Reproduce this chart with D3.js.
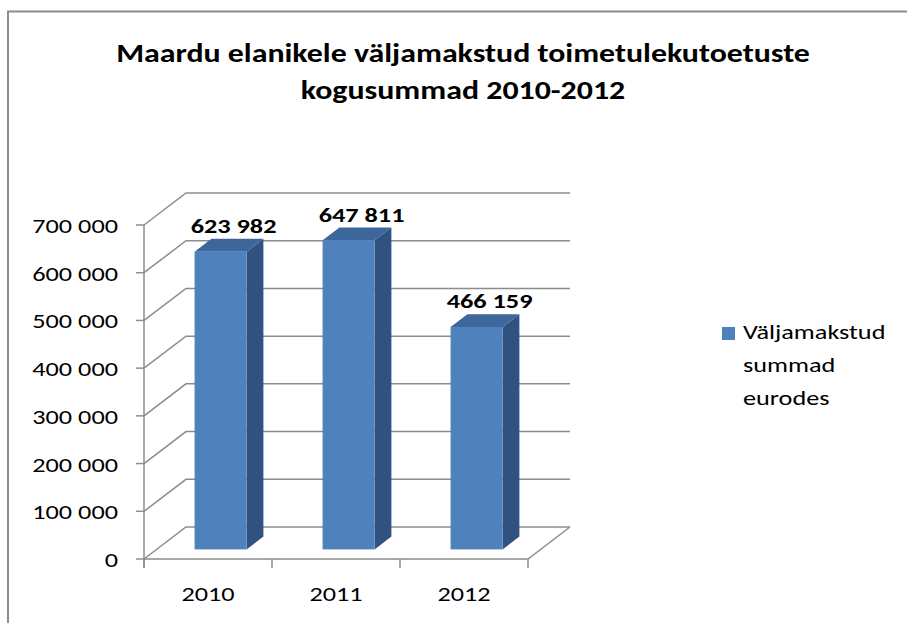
<!DOCTYPE html>
<html>
<head>
<meta charset="utf-8">
<script src="https://cdn.jsdelivr.net/npm/d3@7"></script>
<style>
  body { margin: 0; background: #fff; }
  svg { display: block; font-family: Carlito, Calibri, "Open Sans", sans-serif; }
</style>
</head>
<body>
<div id="chart-area"></div>
<script>
// data
var years = ["2010", "2011", "2012"];
var amounts = [623982, 647811, 466159];
var yTicks = [0, 100000, 200000, 300000, 400000, 500000, 600000, 700000];
var seriesName = ["Väljamakstud", "summad", "eurodes"];
var titleLines = ["Maardu elanikele väljamakstud toimetulekutoetuste", "kogusummad 2010-2012"];

var width = 907, height = 623;
// the original picture is stretched sideways, so text is too
var stretch = 1.25;

var svg = d3.select("#chart-area").append("svg")
    .attr("width", width)
    .attr("height", height);

function place(px, py) {
    return "translate(" + px + "," + py + ") scale(" + stretch + ",1)";
}

// outer frame (only top and left edges visible)
svg.append("path")
    .attr("d", "M8,623 V11.5 H907")
    .attr("fill", "none")
    .attr("stroke", "#8c8c8c")
    .attr("stroke-width", 2);

// title
svg.append("g").selectAll("text")
    .data(titleLines).enter()
    .append("text")
        .attr("transform", function(d, i) { return place(463, 62 + i * 37); })
        .attr("text-anchor", "middle")
        .attr("font-size", "25.5px")
        .attr("font-weight", "bold")
        .attr("fill", "#000")
        .text(function(d) { return d; });

// scales
var x = d3.scaleBand()
    .domain(years)
    .range([144, 528]);

var y = d3.scaleLinear()
    .domain([0, 700000])
    .range([559, 225]);

// depth of the 3d box
var depthX = 42, depthY = -32;
var grid = "#8c8c8c";

// gridlines: side wall diagonal + back wall horizontal
var gl = svg.append("g");
gl.selectAll("path")
    .data(yTicks).enter()
    .append("path")
        .attr("d", function(d) {
            var yy = y(d);
            return "M" + x.range()[0] + "," + yy +
                " L" + (x.range()[0] + depthX) + "," + (yy + depthY) +
                " H" + (x.range()[1] + depthX);
        })
        .attr("fill", "none")
        .attr("stroke", grid)
        .attr("stroke-width", 1.5);

// floor front and right edges
svg.append("path")
    .attr("d", "M" + x.range()[0] + "," + y(0) + " H" + x.range()[1] +
        " L" + (x.range()[1] + depthX) + "," + (y(0) + depthY))
    .attr("fill", "none")
    .attr("stroke", grid)
    .attr("stroke-width", 1.5);

// y axis line + ticks
svg.append("path")
    .attr("d", "M" + x.range()[0] + "," + y(700000) + " V" + (y(0) + 9))
    .attr("stroke", grid)
    .attr("stroke-width", 1.5);
svg.append("g").selectAll("line")
    .data(yTicks).enter()
    .append("line")
        .attr("x1", 136).attr("x2", 144)
        .attr("y1", function(d) { return y(d); })
        .attr("y2", function(d) { return y(d); })
        .attr("stroke", grid)
        .attr("stroke-width", 1.5);

var fmt = function(v) { return d3.format(",")(v).replace(/,/g, " "); };

svg.append("g").selectAll("text")
    .data(yTicks).enter()
    .append("text")
        .attr("transform", function(d) { return place(118, y(d) + 8); })
        .attr("text-anchor", "end")
        .attr("font-size", "21px")
        .attr("fill", "#000")
        .text(fmt);

// x ticks
var xTickPos = x.domain().map(function(d) { return x(d); }).concat([x.range()[1]]);
svg.append("g").selectAll("line")
    .data(xTickPos).enter()
    .append("line")
        .attr("x1", function(d) { return d; })
        .attr("x2", function(d) { return d; })
        .attr("y1", y(0))
        .attr("y2", y(0) + 9)
        .attr("stroke", grid)
        .attr("stroke-width", 1.5);

svg.append("g").selectAll("text")
    .data(years).enter()
    .append("text")
        .attr("transform", function(d) { return place(x(d) + x.bandwidth() / 2, 601); })
        .attr("text-anchor", "middle")
        .attr("font-size", "21px")
        .attr("fill", "#000")
        .text(function(d) { return d; });

// bars (front at 30% depth, back at 70% depth)
var barW = 52, f0 = 0.3, f1 = 0.7;
var bars = svg.append("g").selectAll("g")
    .data(years.map(function(d, i) { return { year: d, value: amounts[i] }; }))
    .enter().append("g");

function front(d) {
    var cx = x(d.year) + x.bandwidth() / 2 + f0 * depthX;
    return { x0: cx - barW / 2, x1: cx + barW / 2, yb: y(0) + f0 * depthY, yt: y(d.value) + f0 * depthY };
}
var dX = (f1 - f0) * depthX, dY = (f1 - f0) * depthY;

// side face
bars.append("path")
    .attr("d", function(d) {
        var p = front(d);
        return "M" + p.x1 + "," + p.yb + " L" + p.x1 + "," + p.yt +
            " L" + (p.x1 + dX) + "," + (p.yt + dY) + " L" + (p.x1 + dX) + "," + (p.yb + dY) + "Z";
    })
    .attr("fill", "#30527f");

// top face
bars.append("path")
    .attr("d", function(d) {
        var p = front(d);
        return "M" + p.x0 + "," + p.yt + " L" + p.x1 + "," + p.yt +
            " L" + (p.x1 + dX) + "," + (p.yt + dY) + " L" + (p.x0 + dX) + "," + (p.yt + dY) + "Z";
    })
    .attr("fill", "#3d669b");

// front face
bars.append("rect")
    .attr("x", function(d) { return front(d).x0; })
    .attr("y", function(d) { return front(d).yt; })
    .attr("width", barW)
    .attr("height", function(d) { var p = front(d); return p.yb - p.yt; })
    .attr("fill", "#4f81bd");

// value labels
bars.append("text")
    .attr("transform", function(d) {
        var p = front(d);
        return place((p.x0 + p.x1) / 2 + 13, p.yt + dY - 6);
    })
    .attr("text-anchor", "middle")
    .attr("font-size", "21px")
    .attr("font-weight", "bold")
    .attr("fill", "#000")
    .text(function(d) { return fmt(d.value); });

// legend
svg.append("rect")
    .attr("x", 722).attr("y", 327)
    .attr("width", 13).attr("height", 13)
    .attr("fill", "#4f81bd");

svg.append("g").selectAll("text")
    .data(seriesName).enter()
    .append("text")
        .attr("transform", function(d, i) { return place(743, 339 + i * 33); })
        .attr("font-size", "21px")
        .attr("fill", "#000")
        .text(function(d) { return d; });
</script>
</body>
</html>
